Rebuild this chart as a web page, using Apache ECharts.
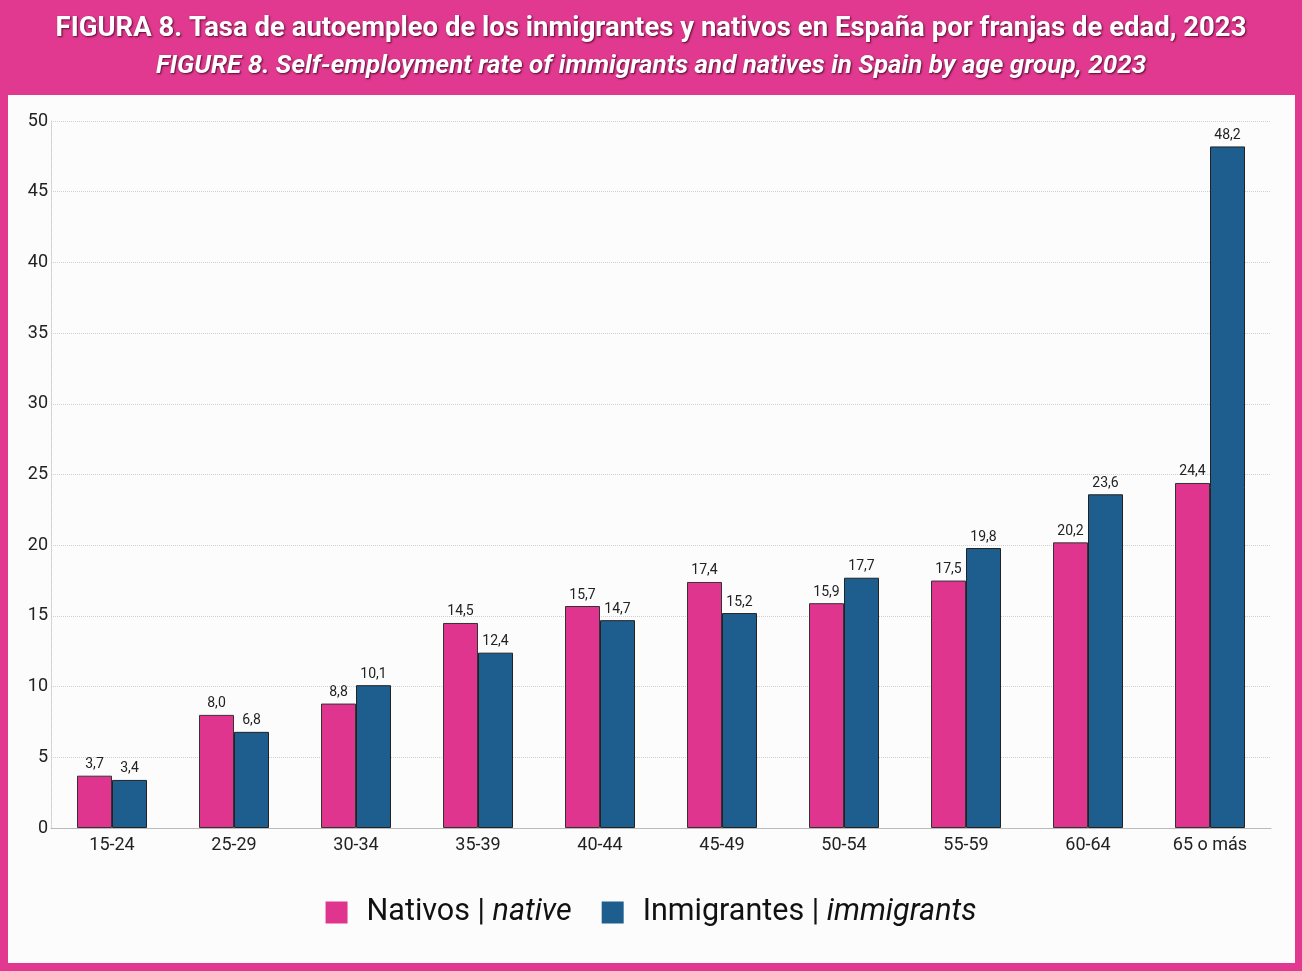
<!DOCTYPE html>
<html>
<head>
<meta charset="utf-8">
<script src="https://cdn.jsdelivr.net/npm/echarts@6/dist/echarts.min.js"></script>
<style>
html,body{margin:0;padding:0;background:#e0398f;}
#c{width:1302px;height:971px;}
</style>
</head>
<body>
<div id="c"></div>
<script>
const categories = ['15-24','25-29','30-34','35-39','40-44','45-49','50-54','55-59','60-64','65 o más'];
const nativos = [3.7, 8.0, 8.8, 14.5, 15.7, 17.4, 15.9, 17.5, 20.2, 24.4];
const inmigrantes = [3.4, 6.8, 10.1, 12.4, 14.7, 15.2, 17.7, 19.8, 23.6, 48.2];
const yTicks = [0, 5, 10, 15, 20, 25, 30, 35, 40, 45, 50];
const titleES = 'FIGURA 8. Tasa de autoempleo de los inmigrantes y nativos en España por franjas de edad, 2023';
const titleEN = 'FIGURE 8. Self-employment rate of immigrants and natives in Spain by age group, 2023';

const chart = echarts.init(document.getElementById('c'));
const fmt = p => p.value.toFixed(1).replace('.', ',');
const shadow = { textShadowColor: 'rgba(60,0,30,0.85)', textShadowBlur: 2, textShadowOffsetX: 1, textShadowOffsetY: 1 };
chart.setOption({
  backgroundColor: '#e0398f',
  animation: false,
  graphic: [{
    type: 'rect', z: -10, silent: true,
    shape: { x: 8, y: 95, width: 1287, height: 868 },
    style: { fill: '#fcfcfc' }
  }],
  title: [{
    text: titleES, left: 'center', top: 10,
    textStyle: Object.assign({ color: '#fff', fontFamily: 'Roboto', fontWeight: 'bold', fontSize: 27.5 }, shadow)
  }, {
    text: titleEN, left: 'center', top: 48,
    textStyle: Object.assign({ color: '#fff', fontFamily: 'Roboto', fontStyle: 'italic', fontWeight: 'bold', fontSize: 26 }, shadow)
  }],
  legend: {
    bottom: 38, left: 'center', itemWidth: 22, itemHeight: 22, itemGap: 30,
    icon: 'rect',
    itemStyle: { borderWidth: 0 },
    data: ['Nativos', 'Inmigrantes'],
    formatter: n => n === 'Nativos' ? '{s|}{a|Nativos}{b| | }{c|native}' : '{s|}{a|Inmigrantes}{b| | }{c|immigrants}',
    textStyle: {
      rich: {
        s: { width: 14 },
        a: { fontFamily: 'Roboto', fontSize: 30.5, color: '#111' },
        b: { fontFamily: 'Roboto', fontSize: 30.5, color: '#111' },
        c: { fontFamily: 'Roboto', fontSize: 30.5, color: '#111', fontStyle: 'italic' }
      }
    }
  },
  grid: { left: 51, right: 31, top: 121, bottom: 143 },
  xAxis: {
    type: 'category', data: categories,
    axisLine: { show: true, lineStyle: { color: '#bbb', width: 1 } },
    axisTick: { show: false },
    axisLabel: { fontFamily: 'Roboto', fontSize: 18, color: '#222', margin: 8 }
  },
  yAxis: {
    type: 'value', min: 0, max: 50, interval: 5,
    axisLine: { show: true, lineStyle: { color: '#ccc', type: 'dotted' } },
    axisTick: { show: false },
    axisLabel: { fontFamily: 'Roboto', fontSize: 18, color: '#222', margin: 3,
      formatter: v => yTicks.includes(v) ? String(v) : '' },
    splitLine: { show: true, lineStyle: { color: '#d0d0d0', type: 'dotted' } }
  },
  series: [{
    name: 'Nativos', type: 'bar', data: nativos, barWidth: 35, barGap: '0%',
    itemStyle: { color: '#e0358f', borderColor: '#333', borderWidth: 1 },
    label: { show: true, position: 'top', formatter: fmt, fontFamily: 'Roboto', fontSize: 14, color: '#222', distance: 4 }
  }, {
    name: 'Inmigrantes', type: 'bar', data: inmigrantes, barWidth: 35,
    itemStyle: { color: '#1e5e8e', borderColor: '#222', borderWidth: 1 },
    label: { show: true, position: 'top', formatter: fmt, fontFamily: 'Roboto', fontSize: 14, color: '#222', distance: 4 }
  }]
});
</script>
</body>
</html>
